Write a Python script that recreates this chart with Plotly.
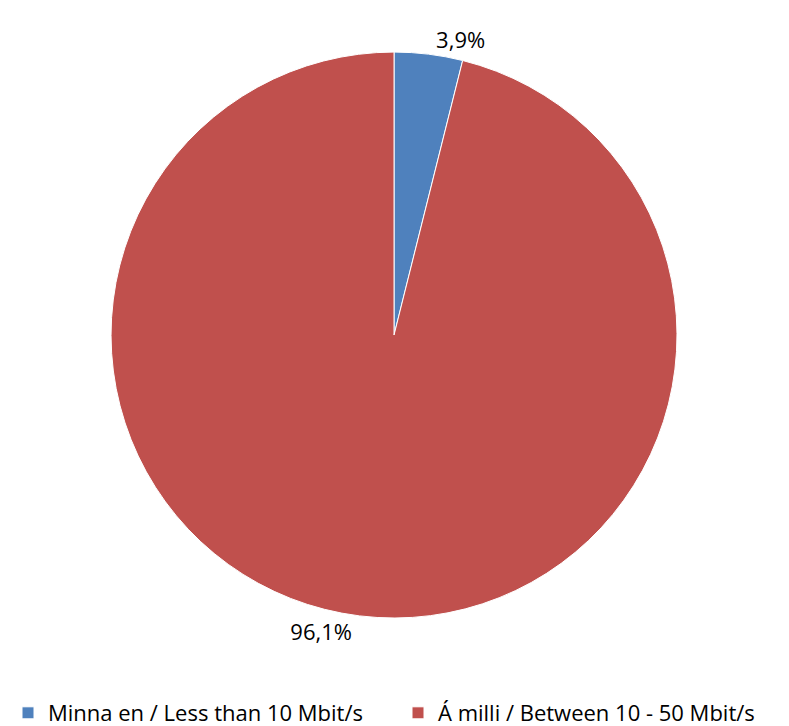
import plotly.graph_objects as go

labels = ["Minna en / Less than 10 Mbit/s", "Á milli / Between 10 - 50 Mbit/s"]
values = [3.9, 96.1]
text_labels = ["3,9%", "96,1%"]
colors = ["#4F81BD", "#C0504D"]

FONT = "Open Sans, Lato, sans-serif"

fig = go.Figure(go.Pie(
    labels=labels,
    values=values,
    text=text_labels,
    textinfo="text",
    textposition="outside",
    sort=False,
    direction="clockwise",
    rotation=0,
    marker=dict(colors=colors, line=dict(color="white", width=1)),
    textfont=dict(family=FONT, size=22, color="black"),
    domain=dict(x=[0.1306, 0.8479], y=[0.1597, 0.9394]),
    showlegend=True,
    hoverinfo="label+percent",
))

fig.update_layout(
    width=789, height=726,
    margin=dict(l=0, r=0, t=0, b=0),
    paper_bgcolor="white",
    plot_bgcolor="white",
    font=dict(family=FONT, size=22, color="black"),
    legend=dict(orientation="h", x=0.0, xanchor="left", y=0.0, yanchor="bottom",
                font=dict(size=22), itemwidth=30, traceorder="normal",
                entrywidth=345, entrywidthmode="pixels"),
)

fig.write_html("out.html")
